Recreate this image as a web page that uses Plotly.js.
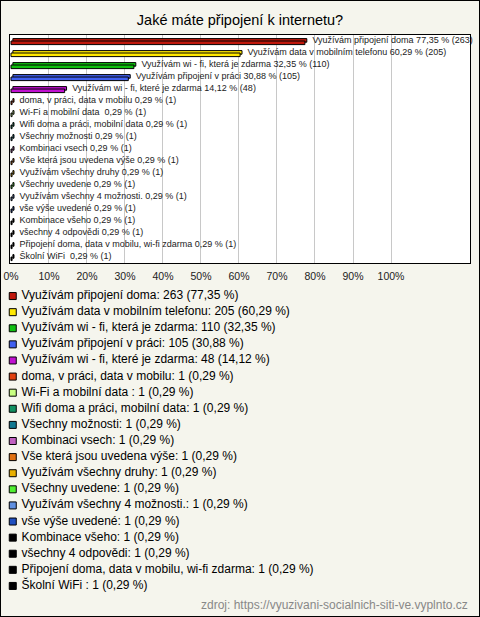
<!DOCTYPE html>
<html>
<head>
<meta charset="utf-8">
<script src="https://cdn.plot.ly/plotly-3.0.1.min.js"></script>
<style>
html,body{margin:0;padding:0;background:#f5f5ed;}
#wrap{width:480px;height:617px;box-sizing:border-box;border:1px solid #000;background:#f5f5ed;}
#chart{width:478px;height:615px;}
</style>
</head>
<body>
<div id="wrap"><div id="chart"></div></div>
<script>
const categories = [
  "Využívám připojení doma",
  "Využívám data v mobilním telefonu",
  "Využívám wi - fi, která je zdarma",
  "Využívám připojení v práci",
  "Využívám wi - fi, které je zdarma",
  "doma, v práci, data v mobilu",
  "Wi-Fi a mobilní data ",
  "Wifi doma a práci, mobilní data",
  "Všechny možnosti",
  "Kombinaci vsech",
  "Vše která jsou uvedena výše",
  "Využívám všechny druhy",
  "Všechny uvedene",
  "Využívám všechny 4 možnosti.",
  "vše výše uvedené",
  "Kombinace všeho",
  "všechny 4 odpovědi",
  "Připojení doma, data v mobilu, wi-fi zdarma",
  "Školní WiFi "
];
const counts = [263, 205, 110, 105, 48, 1, 1, 1, 1, 1, 1, 1, 1, 1, 1, 1, 1, 1, 1];
const percents = [77.35, 60.29, 32.35, 30.88, 14.12, 0.29, 0.29, 0.29, 0.29, 0.29, 0.29, 0.29, 0.29, 0.29, 0.29, 0.29, 0.29, 0.29, 0.29];
const colors = [
  "#c0180c", "#ffe800", "#10c010", "#4060f0", "#c010d0",
  "#e04010", "#c8ff80", "#109060", "#107890", "#c060c0",
  "#e07010", "#e8b000", "#50f030", "#6090e0", "#2050c0",
  "#000000", "#000000", "#000000", "#000000"
];
const tickVals = [0, 10, 20, 30, 40, 50, 60, 70, 80, 90, 100];
const tickText = ["0%", "10%", "20%", "30%", "40%", "50%", "60%", "70%", "80%", "90%", "100%"];
const titleText = "Jaké máte připojení k internetu?";
const sourceText = "zdroj: https://vyuzivani-socialnich-siti-ve.vyplnto.cz";

const fmt = v => v.toFixed(2).replace(".", ",");
const NB = "\u00a0";
const barLabels = categories.map((c, i) => NB.repeat(3) + c + " " + fmt(percents[i]) + " % (" + counts[i] + ")");
const legendLabels = categories.map((c, i) => NB + c + ": " + counts[i] + " (" + fmt(percents[i]) + " %)");
const legendY = categories.map((c, i) => "L" + i);

const FONT = "Liberation Sans, Arial, sans-serif";

const backBars = {
  type: "bar", orientation: "h", x: percents, y: categories, base: 0.5,
  width: 0.3, offset: -0.2,
  marker: {color: colors, line: {color: "#000", width: 1}},
  hoverinfo: "skip", showlegend: false, xaxis: "x", yaxis: "y"
};
const frontBars = {
  type: "bar", orientation: "h", x: percents, y: categories, base: 0,
  width: 0.3, offset: 0,
  marker: {color: colors, line: {color: "#000", width: 1}},
  showlegend: false, xaxis: "x", yaxis: "y"
};
const barText = {
  type: "scatter", mode: "text", x: percents, y: categories, text: barLabels,
  textposition: "middle right", cliponaxis: false,
  textfont: {family: FONT, size: 9, color: "#222"},
  hoverinfo: "skip", showlegend: false, xaxis: "x", yaxis: "y"
};
const legendTrace = {
  type: "scatter", mode: "markers+text",
  x: categories.map(() => 0), y: legendY, text: legendLabels,
  textposition: "middle right", cliponaxis: false,
  marker: {symbol: "square", size: 7, color: colors, line: {color: "#000", width: 1}},
  textfont: {family: FONT, size: 12, color: "#000"},
  hoverinfo: "skip", showlegend: false, xaxis: "x2", yaxis: "y2"
};

const layout = {
  width: 478, height: 615,
  margin: {l: 9, r: 9, t: 34, b: 22},
  paper_bgcolor: "#f5f5ed",
  plot_bgcolor: "rgba(0,0,0,0)",
  barmode: "overlay",
  showlegend: false,
  title: {text: titleText, font: {family: FONT, size: 14.5, color: "#000"},
          x: 0.5, xanchor: "center", y: 1 - 19/615, yanchor: "middle", yref: "container"},
  xaxis: {
    domain: [0, 1], range: [-0.26, 120.79],
    tickvals: tickVals, ticktext: tickText,
    showgrid: true, gridcolor: "#c8c8c8", gridwidth: 1, zeroline: false,
    showline: true, mirror: true, linecolor: "#000", linewidth: 1,
    ticks: "", ticklabelstandoff: 3, tickfont: {family: FONT, size: 10.5, color: "#222"},
    fixedrange: true, anchor: "y"
  },
  yaxis: {
    domain: [0.5921, 1], range: [18.5, -0.5], type: "category",
    showticklabels: false, showgrid: false, zeroline: false,
    showline: true, mirror: true, linecolor: "#000", linewidth: 1,
    ticks: "", fixedrange: true, anchor: "x"
  },
  xaxis2: {
    domain: [0, 1], range: [-0.6, 99.4], visible: false, fixedrange: true, anchor: "y2"
  },
  yaxis2: {
    domain: [0, 0.5474], range: [18.5, -0.5], type: "category", visible: false, fixedrange: true, anchor: "x2"
  },
  shapes: [
    {type: "rect", xref: "x domain", yref: "y domain", x0: 0, x1: 1, y0: 0, y1: 1,
     fillcolor: "#ffffff", line: {width: 0}, layer: "below"}
  ],
  annotations: [
    {text: sourceText, xref: "paper", yref: "paper", x: 1, y: 0, xanchor: "right", yanchor: "top",
     yshift: -2, showarrow: false, font: {family: FONT, size: 12, color: "#888"}}
  ]
};

Plotly.newPlot("chart", [backBars, frontBars, barText, legendTrace], layout, {displayModeBar: false, staticPlot: true});
</script>
</body>
</html>
